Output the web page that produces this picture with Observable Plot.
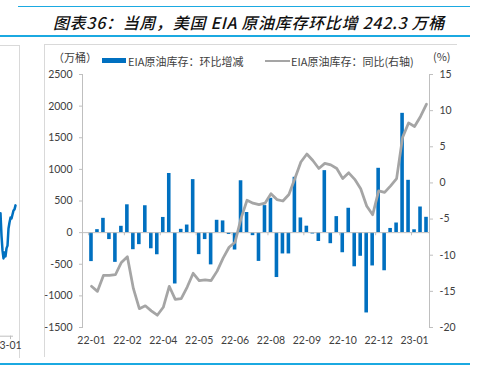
<!DOCTYPE html>
<html><head><meta charset="utf-8">
<script src="https://cdn.jsdelivr.net/npm/d3@7"></script>
<script src="https://cdn.jsdelivr.net/npm/@observablehq/plot@0.6"></script>
<style>
html,body{margin:0;padding:0;background:#fff;}
#wrap{position:relative;width:477px;height:377px;overflow:hidden;font-family:"Noto Sans CJK SC",sans-serif;color:#404040;}
.hline{position:absolute;height:0;border-top:2px solid #1BA9E1;}
#title{position:absolute;top:11px;right:32px;font-size:16px;letter-spacing:0.7px;font-style:italic;font-weight:500;color:#111;white-space:nowrap;line-height:22px;}
#box{position:absolute;left:44px;top:44px;width:412px;height:312px;border-top:1px solid #D9D9D9;border-left:1px solid #D9D9D9;}
#lbox{position:absolute;left:0;top:45px;width:19px;height:312px;border-top:1px solid #D9D9D9;border-right:1px solid #D9D9D9;}
#chart,#prev{position:absolute;left:0;top:0;}
.lab{position:absolute;font-size:11px;line-height:14px;white-space:nowrap;}
.sw{position:absolute;}
</style></head><body>
<div id="wrap">
  <div class="hline" style="top:6px;left:18px;width:452px;border-top-width:1px;"></div>
  <div id="title">图表36：当周，美国 EIA 原油库存环比增 242.3 万桶</div>
  <div class="hline" style="top:35px;left:0;width:470px;"></div>
  <div id="box"></div>
  <div id="lbox"></div>
  <div id="prev"></div>
  <div id="chart"></div>
  <div class="lab" style="left:53px;top:50px;">（万桶）</div>
  <div class="sw" style="left:102px;top:58px;width:24px;height:5px;background:#0070C0;"></div>
  <div class="lab" style="left:128px;top:54px;">EIA原油库存：环比增减</div>
  <div class="sw" style="left:265px;top:60px;width:25px;height:0;border-top:2.5px solid #A5A5A5;"></div>
  <div class="lab" style="left:291px;top:54px;">EIA原油库存：同比(右轴)</div>
  <div class="lab" style="left:433px;top:49px;">(%)</div>
  <div class="hline" style="top:363px;left:0;width:470px;"></div>
</div>
<script>
const weeks = ["2021-12-31","2022-01-07","2022-01-14","2022-01-21","2022-01-28","2022-02-04","2022-02-11","2022-02-18","2022-02-25","2022-03-04","2022-03-11","2022-03-18","2022-03-25","2022-04-01","2022-04-08","2022-04-15","2022-04-22","2022-04-29","2022-05-06","2022-05-13","2022-05-20","2022-05-27","2022-06-03","2022-06-10","2022-06-17","2022-06-24","2022-07-01","2022-07-08","2022-07-15","2022-07-22","2022-07-29","2022-08-05","2022-08-12","2022-08-19","2022-08-26","2022-09-02","2022-09-09","2022-09-16","2022-09-23","2022-09-30","2022-10-07","2022-10-14","2022-10-21","2022-10-28","2022-11-04","2022-11-11","2022-11-18","2022-11-25","2022-12-02","2022-12-09","2022-12-16","2022-12-23","2022-12-30","2023-01-06","2023-01-13","2023-01-20","2023-01-27","2023-02-03"];

// EIA crude inventory weekly change (10k barrels)
const changeValues = [null,-458,47,226,-110,-470,100,440,-270,-190,425,-255,-350,240,935,-812,52,120,838,-348,-110,-510,195,185,-30,-275,820,318,-48,-455,427,543,-710,-337,-337,875,232,102,-22,-140,980,-175,253,-318,385,-540,-374,-1270,-527,1017,-603,66,152,1886,827,45,405,242.3];

// EIA crude inventory YoY (%), right axis
const yoyValues = [null,-14.3,-15.0,-12.8,-12.8,-12.7,-11.0,-10.2,-14.6,-17.4,-17.0,-17.7,-18.3,-17.2,-14.3,-16.1,-16.0,-14.4,-12.5,-13.5,-13.4,-13.5,-12.2,-10.4,-8.9,-8.2,-4.9,-2.4,-2.8,-3.0,-2.8,-1.5,-2.3,-2.5,-1.6,0.6,2.9,4.0,3.1,2.0,2.7,2.5,2.0,0.6,1.4,0.5,-0.8,-3.2,-4.4,-1.1,-1.3,-0.4,0.6,6.3,8.3,7.8,9.2,10.9];

const xTickWeeks = ["2022-01-07","2022-02-18","2022-04-01","2022-05-13","2022-06-24","2022-08-05","2022-09-16","2022-10-28","2022-12-09","2023-01-20"];
const xTickLabels = ["22-01","22-02","22-04","22-05","22-06","22-08","22-09","22-10","22-12","23-01"];
const leftTicks = [-1500,-1000,-500,0,500,1000,1500,2000,2500];
const rightTicks = [-20,-15,-10,-5,0,5,10,15];

// cropped neighbouring panel (only its right edge is visible)
const prevX = [0,1,2,3,4,5,6,7,8,9,10,11,12,13,14,15];
const prevValues = [41.1,33.3,28.1,25.3,27.4,26.0,28.8,29.8,35.8,37.9,39.6,39.3,40.7,42.1,42.5,43.9];
const prevTickLabel = "23-01";

const leftDomain = [-1500, 2500];
const rightDomain = [-20, 15];
const toLeft = p => leftDomain[0] + (p - rightDomain[0]) * (leftDomain[1]-leftDomain[0]) / (rightDomain[1]-rightDomain[0]);
const fromLeft = v => rightDomain[0] + (v - leftDomain[0]) * (rightDomain[1]-rightDomain[0]) / (leftDomain[1]-leftDomain[0]);

const rows = weeks.map((w,i)=>({week:w, change:changeValues[i], yoy:yoyValues[i]}));
const labelMap = new Map(xTickWeeks.map((w,i)=>[w, xTickLabels[i]]));

const axisColor = "#BFBFBF";
const textColor = "#404040";

const chart = Plot.plot({
  width: 477, height: 377,
  marginLeft: 82, marginRight: 48, marginTop: 74, marginBottom: 50,
  style: {fontFamily: "Lato, 'Noto Sans CJK SC', sans-serif", fontSize: "10.5px", color: textColor, background: "transparent", overflow: "visible"},
  x: {type: "band", domain: weeks, paddingInner: 0.4, paddingOuter: 0.2},
  y: {domain: leftDomain},
  marks: [
    Plot.barY(rows.filter(d=>d.change!=null), {x:"week", y:"change", fill:"#0070C0"}),
    Plot.ruleY([0], {stroke: axisColor, strokeWidth: 1}),
    Plot.ruleX(xTickWeeks, {x: d=>d, y1: 0, y2: -50, stroke: axisColor, dx: -3}),
    Plot.line(rows.filter(d=>d.yoy!=null), {x:"week", y: d=>toLeft(d.yoy), stroke:"#A5A5A5", strokeWidth: 2.75}),
    Plot.axisY({anchor:"left", ticks: leftTicks, tickFormat: d => String(d), tickSize: 3, tickPadding: 7, stroke: axisColor, fill: textColor, label: null}),
    Plot.axisY({anchor:"right", ticks: rightTicks.map(toLeft), tickFormat: d => String(Math.round(fromLeft(d))), tickSize: 3, tickPadding: 7, stroke: axisColor, fill: textColor, label: null}),
    Plot.axisX({anchor:"bottom", ticks: xTickWeeks, tickFormat: d => labelMap.get(d), tickSize: 0, tickPadding: 9, fill: textColor, label: null}),
    Plot.frame({anchor: "left", stroke: axisColor}),
    Plot.frame({anchor: "right", stroke: axisColor})
  ]
});
document.getElementById("chart").appendChild(chart);

const prev = Plot.plot({
  width: 19, height: 377,
  marginLeft: 0, marginRight: 4, marginTop: 45, marginBottom: 47,
  style: {fontFamily: "Lato, sans-serif", fontSize: "10.5px", color: textColor, background: "transparent", overflow: "visible"},
  x: {domain: [0, 15], axis: null},
  y: {domain: [0, 100], axis: null},
  marks: [
    Plot.ruleY([-2], {x1: 0, x2: 13, stroke: axisColor}),
    Plot.ruleX([10], {y1: -2, y2: -3.2, stroke: axisColor}),
    Plot.text([prevTickLabel], {x: 7, y: -4, text: d => d, lineAnchor: "top", fill: textColor}),
    Plot.line(prevX.map((x,i)=>({x, v: prevValues[i]})), {x: "x", y: "v", stroke: "#0070C0", strokeWidth: 2.5})
  ]
});
document.getElementById("prev").appendChild(prev);
</script>
</body></html>
